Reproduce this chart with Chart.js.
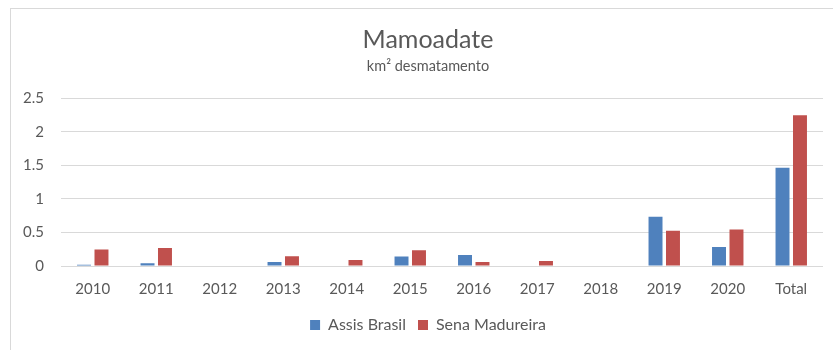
<!DOCTYPE html>
<html>
<head>
<meta charset="utf-8">
<script src="https://cdn.jsdelivr.net/npm/chart.js@4/dist/chart.umd.min.js"></script>
<style>
  html, body { margin: 0; padding: 0; background: #fff; overflow: hidden; }
  #wrap { position: relative; width: 833px; height: 350px; overflow: hidden; }
  #frame { position: absolute; left: 10px; top: 8px; width: 900px; height: 400px; border: 1px solid #d9d9d9; }
  #chart { position: absolute; left: 0; top: 0; }
</style>
</head>
<body>
<div id="wrap">
  <div id="frame"></div>
  <canvas id="chart" width="860" height="350"></canvas>
</div>
<script>
// deforestation per year, km²
var years = ['2010','2011','2012','2013','2014','2015','2016','2017','2018','2019','2020','Total'];
var assisBrasil = [0.02, 0.04, 0, 0.06, 0, 0.14, 0.165, 0, 0, 0.735, 0.285, 1.465];
var senaMadureira = [0.245, 0.27, 0, 0.145, 0.09, 0.235, 0.06, 0.075, 0, 0.525, 0.545, 2.25];
var yTicks = [0, 0.5, 1, 1.5, 2, 2.5];

var grey = '#595959';
var font = 'Lato';

var ctx = document.getElementById('chart');
const bars = new Chart(ctx, {
    type: 'bar',
    data: {
        labels: years,
        datasets: [{
            label: 'Assis Brasil',
            data: assisBrasil,
            backgroundColor: '#4F81BD'
        }, {
            label: 'Sena Madureira',
            data: senaMadureira,
            backgroundColor: '#C0504D'
        }]
    },
    options: {
        responsive: false,
        animation: false,
        categoryPercentage: 0.55,
        barPercentage: 0.8,
        layout: { padding: { left: 21, right: 25, top: 0, bottom: 7 } },
        plugins: {
            title: {
                display: true,
                text: 'Mamoadate',
                color: grey,
                font: { family: font, size: 25, weight: 'normal' },
                padding: { top: 25, bottom: 0 }
            },
            subtitle: {
                display: true,
                text: 'km² desmatamento',
                color: grey,
                font: { family: font, size: 14.5 },
                padding: { top: 3, bottom: 23 }
            },
            legend: {
                position: 'bottom',
                labels: {
                    color: grey,
                    font: { family: font, size: 16 },
                    boxWidth: 10,
                    boxHeight: 10,
                    padding: 12
                }
            },
            tooltip: { enabled: false }
        },
        scales: {
            x: {
                grid: { display: false, drawTicks: false },
                border: { display: false },
                ticks: { color: grey, font: { family: font, size: 15 }, padding: 14 },
                // tighten the space between the year labels and the legend
                afterFit: function (scale) { scale.height -= 7; }
            },
            y: {
                min: 0,
                max: 2.5,
                afterBuildTicks: function (axis) {
                    axis.ticks = yTicks.map(function (v) { return { value: v }; });
                },
                afterFit: function (scale) { scale.width = 40; },
                grid: { color: '#d9d9d9', drawTicks: false },
                border: { display: false },
                ticks: {
                    color: grey,
                    font: { family: font, size: 15 },
                    padding: 17,
                    callback: function (v) { return String(v); }
                }
            },
            // empty right-hand gutter so title and legend sit a bit right of centre
            gutter: {
                position: 'right',
                grid: { display: false, drawTicks: false },
                border: { display: false },
                ticks: { display: false },
                afterFit: function (scale) { scale.width = 12; }
            }
        }
    }
});
</script>
</body>
</html>
